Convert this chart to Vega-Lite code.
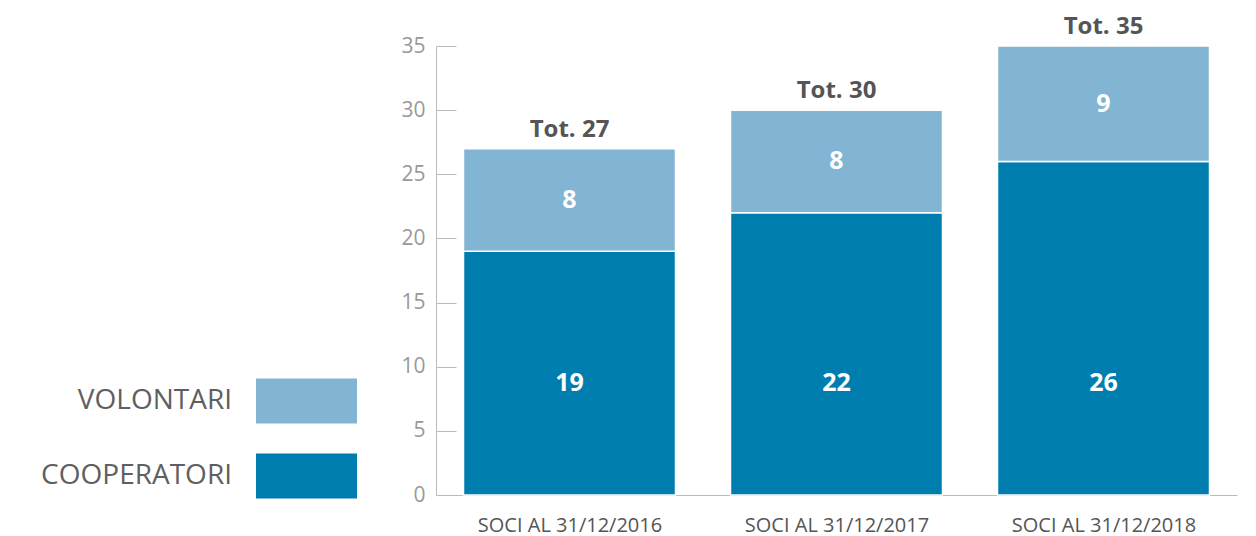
{
  "$schema": "https://vega.github.io/schema/vega-lite/v6.json",
  "autosize": {"type": "none"},
  "padding": {"left": 436, "top": 46, "right": 19, "bottom": 41},
  "width": 801,
  "height": 449,
  "background": "white",
  "config": {"view": {"stroke": null}, "font": "Open Sans"},
  "data": {
    "values": [
      {"anno": "SOCI AL 31/12/2016", "tipo": "COOPERATORI", "n": 19},
      {"anno": "SOCI AL 31/12/2016", "tipo": "VOLONTARI", "n": 8},
      {"anno": "SOCI AL 31/12/2017", "tipo": "COOPERATORI", "n": 22},
      {"anno": "SOCI AL 31/12/2017", "tipo": "VOLONTARI", "n": 8},
      {"anno": "SOCI AL 31/12/2018", "tipo": "COOPERATORI", "n": 26},
      {"anno": "SOCI AL 31/12/2018", "tipo": "VOLONTARI", "n": 9}
    ]
  },
  "encoding": {
    "x": {
      "field": "anno", "type": "nominal", "sort": null,
      "scale": {"paddingInner": 0.206, "paddingOuter": 0.103},
      "axis": {
        "title": null, "labelAngle": 0, "domainColor": "#bbbbbb", "tickColor": "#bbbbbb",
        "tickSize": -10, "tickBand": "extent", "labelPadding": 30, "labelFontSize": 20,
        "labelColor": "#555555", "labelFont": "Open Sans", "labelLimit": 300
      }
    }
  },
  "layer": [
    {
      "mark": {"type": "bar", "stroke": "white", "strokeWidth": 1.5},
      "encoding": {
        "y": {
          "field": "n", "type": "quantitative", "aggregate": "sum", "stack": "zero",
          "scale": {"domain": [0, 35], "nice": false},
          "axis": {
            "title": null, "grid": false, "values": [0, 5, 10, 15, 20, 25, 30, 35],
            "domainColor": "#bbbbbb", "tickColor": "#bbbbbb", "tickSize": -20,
            "labelPadding": 31, "labelFontSize": 21, "labelColor": "#999999"
          }
        },
        "color": {
          "field": "tipo", "type": "nominal",
          "scale": {"domain": ["VOLONTARI", "COOPERATORI"], "range": ["#82b5d3", "#007daf"]},
          "legend": {
            "orient": "none", "legendX": -180, "legendY": 304.5, "title": null,
            "symbolType": "M-1,-0.4455H1V0.4455H-1Z", "symbolSize": 10201,
            "symbolStrokeWidth": 0, "labelAlign": "right", "labelOffset": -125,
            "labelFontSize": 28, "labelColor": "#5f5f5f", "labelLimit": 400
          }
        },
        "order": {"field": "tipo", "type": "nominal", "sort": "ascending"}
      }
    },
    {
      "transform": [{"joinaggregate": [{"op": "sum", "field": "n", "as": "tot"}], "groupby": ["anno"]}, {"filter": "datum.tipo === 'VOLONTARI'"}, {"calculate": "datum.tot - datum.n / 2", "as": "mid"}],
      "mark": {"type": "text", "color": "white", "fontWeight": "bold", "fontSize": 25, "baseline": "middle"},
      "encoding": {
        "y": {"field": "mid", "type": "quantitative"},
        "text": {"field": "n", "type": "quantitative"}
      }
    },
    {
      "transform": [{"filter": "datum.tipo === 'COOPERATORI'"}],
      "mark": {"type": "text", "color": "white", "fontWeight": "bold", "fontSize": 25, "baseline": "middle"},
      "encoding": {
        "y": {"datum": 8.7},
        "text": {"field": "n", "type": "quantitative"}
      }
    },
    {
      "transform": [{"aggregate": [{"op": "sum", "field": "n", "as": "tot"}], "groupby": ["anno"]}, {"calculate": "'Tot. ' + datum.tot", "as": "label"}],
      "mark": {"type": "text", "color": "#555555", "fontWeight": "bold", "fontSize": 24, "baseline": "bottom", "dy": -7},
      "encoding": {
        "y": {"field": "tot", "type": "quantitative"},
        "text": {"field": "label", "type": "nominal"}
      }
    }
  ]
}
